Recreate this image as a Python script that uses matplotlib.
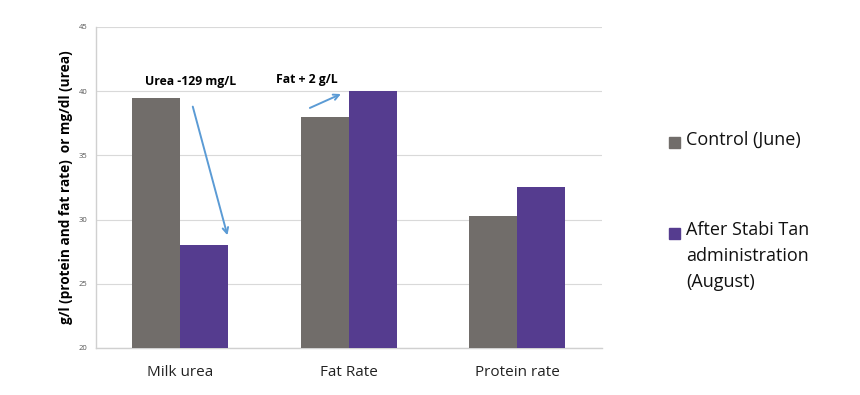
import matplotlib.pyplot as plt
from matplotlib.patches import Rectangle
import numpy as np

categories = ["Milk urea", "Fat Rate", "Protein rate"]
control_june = [39.5, 38.0, 30.3]
after_august = [28.0, 40.0, 32.5]
series_labels = ["Control (June)", "After Stabi Tan\nadministration\n(August)"]

gray = "#716d6a"
purple = "#553c8f"

plt.rcParams['font.family'] = ['Open Sans', 'DejaVu Sans']

fig = plt.figure(figsize=(8.6, 3.95), dpi=100)
ax = fig.add_axes([0.1116, 0.119, 0.588, 0.813])

x = np.arange(len(categories))
w = 0.285
ax.bar(x - w / 2, control_june, w, color=gray, zorder=3)
ax.bar(x + w / 2, after_august, w, color=purple, zorder=3)

ax.set_xlim(-0.5, 2.5)
ax.set_ylim(20, 45)
ax.set_yticks(np.arange(20, 46, 5))
ax.set_xticks(x)
ax.set_xticklabels(categories, fontsize=11, color="#222222")
ax.tick_params(axis='y', labelsize=5.5, labelcolor="#555555", length=0, pad=6)
ax.tick_params(axis='x', length=0, pad=12)
ax.grid(axis='y', color="#d9d9d9", linewidth=0.8, zorder=0)
for s in ["top", "right"]:
    ax.spines[s].set_visible(False)
for s in ["left", "bottom"]:
    ax.spines[s].set_color("#d0d0d0")
    ax.spines[s].set_linewidth(1.0)

ax.set_ylabel("g/l (protein and fat rate)  or mg/dl (urea)", fontsize=9.8,
              fontweight='bold', labelpad=4)

# annotations
arrow_color = "#5b9bd5"
ax.annotate("", xy=(0.284, 28.57), xytext=(0.07, 39.0),
            arrowprops=dict(arrowstyle="->", color=arrow_color, lw=1.4))
ax.annotate("", xy=(0.968, 39.86), xytext=(0.754, 38.6),
            arrowprops=dict(arrowstyle="->", color=arrow_color, lw=1.4))
ax.text(0.06, 40.75, "Urea -129 mg/L", fontsize=8.8, fontweight='bold',
        ha='center', va='center')
ax.text(0.75, 40.9, "Fat + 2 g/L", fontsize=8.8, fontweight='bold',
        ha='center', va='center')

# legend drawn by hand so the square sits on the first line
colors_ = [gray, purple]
tops = [0.657, 0.428]
for col, lab, top in zip(colors_, series_labels, tops):
    fig.patches.append(Rectangle((0.778, top - 0.032), 0.0128, 0.028,
                                 color=col, transform=fig.transFigure))
    fig.text(0.798, top + 0.012, lab, fontsize=13, va='top', ha='left',
             linespacing=1.58, color="#111111")

fig.savefig("out.png", dpi=100)
